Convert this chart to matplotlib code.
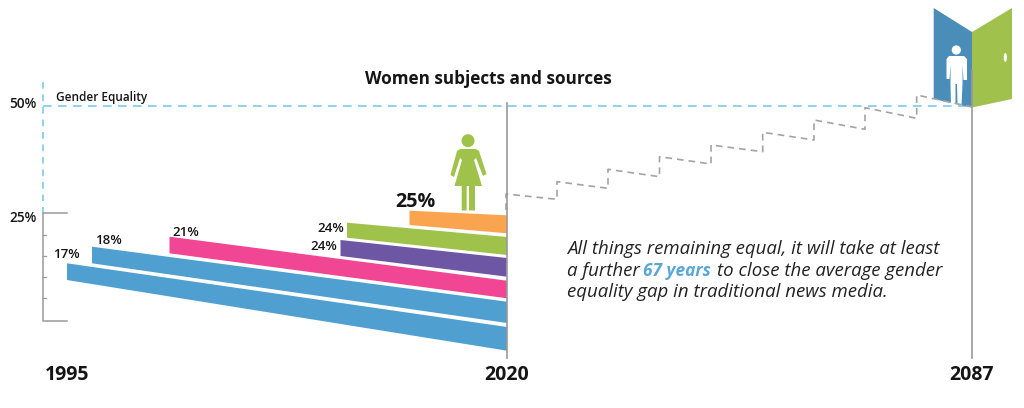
import matplotlib
matplotlib.use("Agg")
import matplotlib.pyplot as plt
from matplotlib.patches import Polygon, Circle, Ellipse

FONT = "Open Sans"
plt.rcParams["font.family"] = [FONT, "DejaVu Sans"]

# Bars (figure-pixel geometry), back to front
bar_names = ["1995", "2000", "2005", "2010", "2015", "2020"]
bar_labels = ["17%", "18%", "21%", "24%", "24%", "25%"]
bar_colors = ["#4F9FD1", "#4F9FD1", "#F04693", "#6D57A5", "#9FC24B", "#FBA44F"]
bar_left_x = [67, 92, 169.5, 340.5, 347, 409.5]
bar_left_top = [263.3, 246.7, 236.7, 240, 222.7, 210.7]
bar_left_bot = [280, 263.3, 253.3, 256, 237.7, 225]
bar_right_top = [327, 301.7, 280.7, 258, 237, 215.3]
bar_right_bot = [350.7, 323, 298.3, 276.7, 255, 233.3]
bar_right_x = 507

stair_x = [506, 506, 557, 557, 608, 608, 659.5, 659.5, 711, 711, 762.7, 762.7,
           814, 814, 865, 865, 916.7, 916.7, 972]
stair_y = [210, 194, 199.3, 181.7, 188.3, 169.3, 176.7, 156.7, 164, 145, 151.7, 132.3,
           140, 120, 129.3, 107.7, 118.3, 95, 107]

year_labels = ["1995", "2020", "2087"]
year_x = [67, 507, 972]

fig = plt.figure(figsize=(10.24, 4.08), dpi=100)
ax = fig.add_axes([0, 0, 1, 1])
ax.set_xlim(0, 1024)
ax.set_ylim(408, 0)
ax.axis("off")

GREY = "#9A9A9A"
BLUE_D = "#7CCBEA"

# axis bracket
ax.plot([67, 42.5, 42.5, 67], [213, 213, 321, 321], color=GREY, lw=1.1, zorder=2)
for ty in [235, 256, 277, 298]:
    ax.plot([42.5, 46], [ty, ty], color=GREY, lw=0.9, zorder=2)

# equality dashed lines
ax.plot([42.5, 42.5], [82, 213], color=BLUE_D, lw=1.2, dashes=(4, 3.5), zorder=1)
ax.plot([43, 972], [106, 106], color=BLUE_D, lw=1.2, dashes=(5.2, 3.8), zorder=1)

# door
ax.add_patch(Polygon([(933.7, 8), (972, 32), (972, 107.5), (933.7, 99)], fc="#4A8DB8", ec="none", zorder=3))
ax.add_patch(Polygon([(972, 32), (1012, 8), (1012, 99), (972, 107.5)], fc="#A0C14C", ec="none", zorder=3))
ax.add_patch(Ellipse((1005.3, 57.5), 3.2, 9, fc="white", ec="none", zorder=4))
# man icon
ax.add_patch(Circle((956.3, 50), 4.6, fc="white", ec="none", zorder=4))
ax.add_patch(Polygon([(949, 56), (964, 56), (967, 59), (967, 80), (963.5, 80), (962.5, 64), (962.5, 84),
                      (961.5, 105), (957.5, 105), (957, 84), (955.5, 84), (955.5, 105), (951, 105),
                      (950.5, 84), (950.5, 64), (949.5, 79), (946.5, 79), (946.5, 59)],
                     fc="white", ec="none", zorder=4))

# vertical year lines
ax.plot([507, 507], [103, 358], color=GREY, lw=1.2, zorder=7)
ax.plot([972, 972], [70, 358], color=GREY, lw=1.2, zorder=7)

# stairs
ax.plot(stair_x, stair_y, color="#A3A3A3", lw=1.2, dashes=(4, 3), zorder=5)

# bars
for lx, lt, lb, rt, rb, c in zip(bar_left_x, bar_left_top, bar_left_bot, bar_right_top, bar_right_bot, bar_colors):
    ax.add_patch(Polygon([(lx, lt), (bar_right_x, rt), (bar_right_x, rb), (lx, lb)], fc=c, ec="none", zorder=6))

# woman icon
G = "#9FC24B"
ax.add_patch(Circle((468, 140.7), 6.5, fc=G, ec="none", zorder=6))
ax.add_patch(Polygon([(460, 149), (476, 149), (479, 151), (486.5, 174), (483, 176), (476, 158), (474, 160),
                      (482, 186), (475, 186), (475, 210.5), (469, 210.5), (469, 186), (466.7, 186),
                      (466.7, 210.5), (461.7, 210.5), (461.7, 186), (454.5, 186), (462, 160), (460, 158),
                      (454, 177), (450.5, 175), (457, 151)], fc=G, ec="none", zorder=6))

# texts
def T(x, y, s, size, w="semibold", ha="left", **kw):
    return ax.text(x, y, s, fontsize=size, fontweight=w, ha=ha, va="center", color="#151515", zorder=8, **kw)

T(488.5, 79, "Women subjects and sources", 12.3, "bold", "center")
T(56, 97, "Gender Equality", 8.5)
T(9, 104, "50%", 9.8)
T(9, 218, "25%", 9.8)
bar_label_x = [53, 95, 172, 310, 317, 395]
bar_label_y = [254, 241, 232, 246, 228, 202]
bar_label_size = [9.6, 9.6, 9.6, 9.6, 9.6, 14.2]
for s, x, y, fs in zip(bar_labels, bar_label_x, bar_label_y, bar_label_size):
    T(x, y, s, fs, "bold" if fs > 10 else "semibold")
for s, x in zip(year_labels, year_x):
    T(x, 375.5, s, 14, "bold", "center")

# narrative
IT = dict(fontsize=13.4, style="italic", va="center", color="#222222", zorder=8, fontweight="normal")
ax.text(567, 249, "All things remaining equal, it will take at least", **IT)
ax.text(567, 270.5, "a further", **IT)
ax.text(643, 270.5, "67 years", fontsize=12.4, style="italic", fontweight="bold", va="center", color="#5AA7D6", zorder=8)
ax.text(717, 270.5, "to close the average gender", **IT)
ax.text(567, 292, "equality gap in traditional news media.", **IT)

fig.savefig("out.png", dpi=100)
